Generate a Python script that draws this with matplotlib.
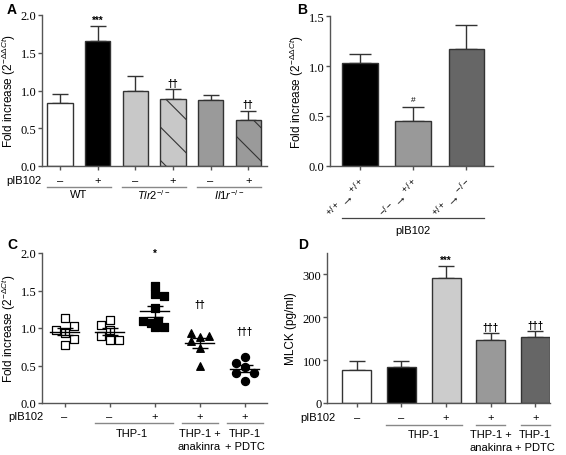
import numpy as np
import matplotlib
matplotlib.use("Agg")
import matplotlib.pyplot as plt

plt.rcParams['font.family'] = ['Liberation Sans', 'DejaVu Sans']
plt.rcParams['mathtext.fontset'] = 'custom'
plt.rcParams['mathtext.rm'] = 'Liberation Sans'
plt.rcParams['mathtext.it'] = 'Liberation Sans:italic'
plt.rcParams['mathtext.bf'] = 'Liberation Sans:bold'
plt.rcParams['hatch.linewidth'] = 0.8

# ---------------- data ----------------
# Panel A
a_vals = [0.84, 1.66, 1.00, 0.89, 0.87, 0.61]
a_err = [0.11, 0.19, 0.19, 0.13, 0.07, 0.12]
a_signs = ['–', '+', '–', '+', '–', '+']
a_sig = ['', '***', '', '††', '', '††']
a_groups = ['WT', r'$\mathit{Tlr2}^{\mathit{-/-}}$', r'$\mathit{Il1r}^{\mathit{-/-}}$']
a_yticks = [0.0, 0.5, 1.0, 1.5, 2.0]

# Panel B
b_labels = [r'$^{+/+}\!\rightarrow{}^{+/+}$', r'$^{-/-}\!\rightarrow{}^{+/+}$', r'$^{+/+}\!\rightarrow{}^{-/-}$']
b_vals = [1.03, 0.45, 1.17]
b_err = [0.09, 0.14, 0.24]
b_sig = ['', '#', '']
b_yticks = [0.0, 0.5, 1.0, 1.5]

# Panel C (individual points)
c_g1 = [1.14, 1.03, 0.975, 0.935, 0.86, 0.78]
c_g2 = [1.11, 1.04, 0.975, 0.89, 0.84, 0.84]
c_g3 = [1.56, 1.46, 1.43, 1.27, 1.09, 1.07, 1.09, 1.02, 1.02]
c_g4 = [0.93, 0.83, 0.88, 0.90, 0.74, 0.49]
c_g5 = [0.61, 0.54, 0.48, 0.40, 0.40, 0.30]
c_signs = ['–', '–', '+', '+', '+']
c_sig = ['', '', '*', '††', '†††']
c_yticks = [0.0, 0.5, 1.0, 1.5, 2.0]

# Panel D
d_vals = [78, 84, 291, 148, 155]
d_err = [20, 13, 28, 15, 13]
d_signs = ['–', '–', '+', '+', '+']
d_sig = ['', '', '***', '†††', '†††']
d_yticks = [0, 100, 200, 300]

# ---------------- layout helpers ----------------
W, H = 566, 456
fig = plt.figure(figsize=(W / 100, H / 100), dpi=100)
AX = '#555555'
EDGE = '#333333'
FS = 8
TFS = 9


def add_ax(l, r, b, t):
    return fig.add_axes([l / W, (H - b) / H, (r - l) / W, (b - t) / H])


def style(ax, yticks, fmt):
    for s in ['top', 'right']:
        ax.spines[s].set_visible(False)
    for s in ['left', 'bottom']:
        ax.spines[s].set_color(AX)
        ax.spines[s].set_linewidth(1.0)
    ax.set_yticks(yticks)
    ax.set_yticklabels([fmt.format(v) for v in yticks], family='Liberation Serif', fontsize=TFS)
    ax.tick_params(axis='both', color=AX, length=3, width=1, pad=1)


def ya(ax_box, ypx):
    b, t = ax_box
    return (b - ypx) / (b - t)


def bars(ax, x, vals, errs, colors, hatches=None, width=0.67, capsize=6):
    for i, (xi, v, e, c) in enumerate(zip(x, vals, errs, colors)):
        h = hatches[i] if hatches else None
        ax.bar(xi, v, width=width, color=c, edgecolor=EDGE, linewidth=1.0, hatch=h, zorder=2)
        ax.errorbar(xi, v, yerr=[[0], [e]], fmt='none', ecolor=EDGE, elinewidth=1.0,
                    capsize=capsize, capthick=1.0, zorder=1)


# ---------------- Panel A ----------------
boxA = (167, 16)
axA = add_ax(42, 267, *boxA)
xa = np.arange(len(a_vals))
a_colors = ['white', 'black', '#c8c8c8', '#c8c8c8', '#9a9a9a', '#9a9a9a']
a_hatch = [None, None, None, '\\', None, '\\']
bars(axA, xa, a_vals, a_err, a_colors, a_hatch, capsize=5.5)
axA.set_xlim(-0.48, 5.5)
axA.set_ylim(0, 2.0)
style(axA, a_yticks, '{:.1f}')
axA.set_xticks(xa)
axA.set_xticklabels([])
axA.set_ylabel(r'Fold increase (2$^{-\Delta\Delta Ct}$)', fontsize=8.5, labelpad=2)
for xi, v, e, s in zip(xa, a_vals, a_err, a_sig):
    if s:
        axA.annotate(s, (xi, v + e), xytext=(0, 1), textcoords='offset points',
                     ha='center', va='bottom', fontsize=7, fontweight='bold')
tr = axA.get_xaxis_transform()
for xi, s in zip(xa, a_signs):
    axA.text(xi, ya(boxA, 181), s, transform=tr, ha='center', va='center', fontsize=FS)
axA.text(-0.48 - 0.95, ya(boxA, 181), 'pIB102', transform=tr, ha='left', va='center', fontsize=FS)
for g, lab in enumerate(a_groups):
    x0, x1 = 2 * g - 0.35, 2 * g + 1 + 0.35
    axA.plot([x0, x1], [ya(boxA, 187.5)] * 2, transform=tr, color='#888888', lw=1.0, clip_on=False)
    axA.text(2 * g + 0.5, ya(boxA, 195.5), lab, transform=tr, ha='center', va='center', fontsize=FS)
fig.text(7 / W, 1 - 10 / H, 'A', fontsize=10, fontweight='bold', va='center', ha='left')

# ---------------- Panel B ----------------
boxB = (167, 17)
axB = add_ax(330, 493, *boxB)
xb = np.arange(len(b_vals))
bars(axB, xb, b_vals, b_err, ['black', '#999999', '#666666'], capsize=8)
axB.set_xlim(-0.56, 2.5)
axB.set_ylim(0, 1.5)
style(axB, b_yticks, '{:.1f}')
axB.set_xticks(xb)
axB.set_xticklabels(b_labels, rotation=45, ha='right', va='top', rotation_mode='anchor', fontsize=9.5)
axB.tick_params(axis='x', pad=4)
axB.set_ylabel(r'Fold increase (2$^{-\Delta\Delta Ct}$)', fontsize=8.5, labelpad=2)
for xi, v, e, s in zip(xb, b_vals, b_err, b_sig):
    if s:
        axB.annotate(s, (xi, v + e), xytext=(0, 3), textcoords='offset points',
                     ha='center', va='bottom', fontsize=6)
trB = axB.get_xaxis_transform()
axB.plot([-0.33, 2.33], [ya(boxB, 219)] * 2, transform=trB, color='#444444', lw=0.9, clip_on=False)
axB.text(1, ya(boxB, 231), 'pIB102', transform=trB, ha='center', va='center', fontsize=FS)
fig.text(297 / W, 1 - 10 / H, 'B', fontsize=10, fontweight='bold', va='center', ha='left')

# ---------------- Panel C ----------------
boxC = (404, 254)
axC = add_ax(42, 267, *boxC)
groups = [c_g1, c_g2, c_g3, c_g4, c_g5]
offsets = [
    [0, 0.2, -0.2, 0, 0.2, 0],
    [0, -0.2, 0, -0.2, 0, 0.2],
    [0, 0, 0.2, 0, -0.25, -0.08, 0.08, 0, 0.22],
    [-0.2, -0.2, 0, 0.2, 0, 0],
    [0, -0.2, 0, -0.2, 0.2, 0],
]
sig_gap = [0, 0, 0.44, 0.39, 0.35]
mk = [('s', 'white'), ('s', 'white'), ('s', 'black'), ('^', 'black'), ('o', 'black')]
for i, (g, off) in enumerate(zip(groups, offsets)):
    m, fc = mk[i]
    axC.scatter(np.full(len(g), i) + np.array(off), g, marker=m, s=34 if m != '^' else 30,
                facecolor=fc, edgecolor='black', linewidths=0.9, zorder=3)
    mean = np.mean(g)
    sem = np.std(g, ddof=1) / np.sqrt(len(g))
    axC.plot([i - 0.33, i + 0.33], [mean, mean], color='black', lw=1.0, zorder=4)
    axC.errorbar(i, mean, yerr=sem, fmt='none', ecolor='black', elinewidth=1.0,
                 capsize=5.5, capthick=1.0, zorder=4)
    if c_sig[i]:
        axC.text(i, max(g) + sig_gap[i], c_sig[i], ha='center', va='center', fontsize=7, fontweight='bold')
axC.set_xlim(-0.5, 4.5)
axC.set_ylim(0, 2.0)
style(axC, c_yticks, '{:.1f}')
axC.set_xticks(range(5))
axC.set_xticklabels([])
axC.set_ylabel(r'Fold increase (2$^{-\Delta Ct}$)', fontsize=8.5, labelpad=2)
trC = axC.get_xaxis_transform()
for xi, s in enumerate(c_signs):
    axC.text(xi, ya(boxC, 417), s, transform=trC, ha='center', va='center', fontsize=FS)
axC.text(-0.5 - 0.75, ya(boxC, 417), 'pIB102', transform=trC, ha='left', va='center', fontsize=FS)
for (x0, x1) in [(0.67, 2.4), (2.62, 3.4), (3.62, 4.4)]:
    axC.plot([x0, x1], [ya(boxC, 424)] * 2, transform=trC, color='#888888', lw=1.0, clip_on=False)
axC.text(1.5, ya(boxC, 434), 'THP-1', transform=trC, ha='center', va='center', fontsize=FS)
axC.text(3.0, ya(boxC, 434), 'THP-1 +', transform=trC, ha='center', va='center', fontsize=FS)
axC.text(3.0, ya(boxC, 447), 'anakinra', transform=trC, ha='center', va='center', fontsize=FS)
axC.text(4.0, ya(boxC, 434), 'THP-1', transform=trC, ha='center', va='center', fontsize=FS)
axC.text(4.0, ya(boxC, 447), '+ PDTC', transform=trC, ha='center', va='center', fontsize=FS)
fig.text(7 / W, 1 - 245 / H, 'C', fontsize=10, fontweight='bold', va='center', ha='left')

# ---------------- Panel D ----------------
boxD = (404, 254)
axD = add_ax(327, 550, *boxD)
xd = np.arange(len(d_vals))
bars(axD, xd, d_vals, d_err, ['white', 'black', '#cccccc', '#999999', '#666666'], width=0.65, capsize=6)
axD.set_xlim(-0.67, 4.33)
axD.set_ylim(0, 350)
style(axD, d_yticks, '{:d}')
axD.set_xticks(xd)
axD.set_xticklabels([])
axD.set_ylabel('MLCK (pg/ml)', fontsize=8.5, labelpad=4)
for xi, v, e, s in zip(xd, d_vals, d_err, d_sig):
    if s:
        axD.annotate(s, (xi, v + e), xytext=(0, 1), textcoords='offset points',
                     ha='center', va='bottom', fontsize=7, fontweight='bold')
trD = axD.get_xaxis_transform()
for xi, s in zip(xd, d_signs):
    axD.text(xi, ya(boxD, 418), s, transform=trD, ha='center', va='center', fontsize=FS)
axD.text(-0.67 - 0.6, ya(boxD, 418), 'pIB102', transform=trD, ha='left', va='center', fontsize=FS)
for (x0, x1) in [(0.65, 2.35), (2.68, 3.33), (3.68, 4.33)]:
    axD.plot([x0, x1], [ya(boxD, 426)] * 2, transform=trD, color='#888888', lw=1.0, clip_on=False)
axD.text(1.5, ya(boxD, 435), 'THP-1', transform=trD, ha='center', va='center', fontsize=FS)
axD.text(3.0, ya(boxD, 435), 'THP-1 +', transform=trD, ha='center', va='center', fontsize=FS)
axD.text(3.0, ya(boxD, 448), 'anakinra', transform=trD, ha='center', va='center', fontsize=FS)
axD.text(4.0, ya(boxD, 435), 'THP-1', transform=trD, ha='center', va='center', fontsize=FS)
axD.text(4.0, ya(boxD, 448), '+ PDTC', transform=trD, ha='center', va='center', fontsize=FS)
fig.text(298 / W, 1 - 245 / H, 'D', fontsize=10, fontweight='bold', va='center', ha='left')

fig.savefig('out.png', dpi=100, facecolor='white')
